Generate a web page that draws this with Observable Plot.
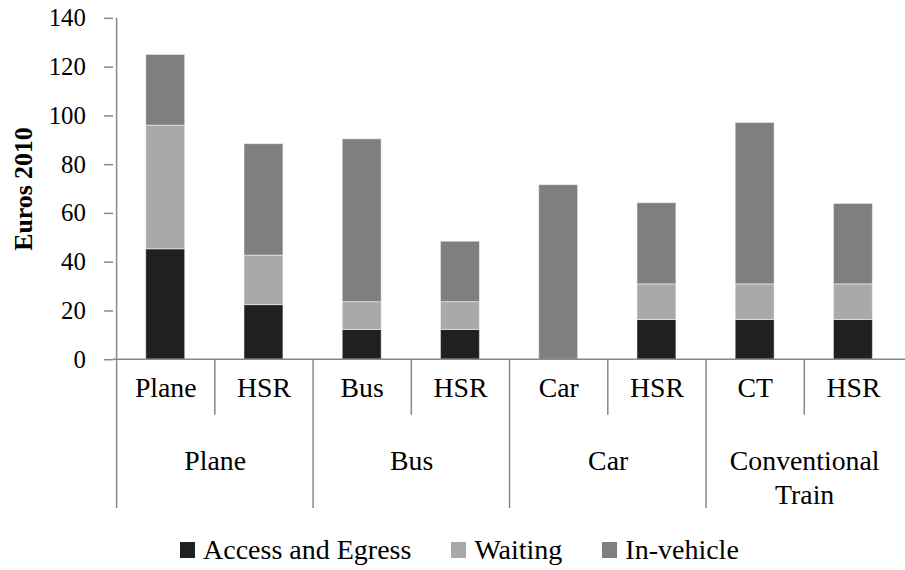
<!DOCTYPE html>
<html>
<head>
<meta charset="utf-8">
<script src="https://cdn.jsdelivr.net/npm/d3@7"></script>
<script src="https://cdn.jsdelivr.net/npm/@observablehq/plot@0.6"></script>
<style>
  html, body { margin: 0; padding: 0; background: #fff; overflow: hidden; width: 905px; height: 570px; }
  #chart { position: relative; width: 905px; height: 570px; font-family: "Liberation Serif", serif; }
  #legend { position: absolute; left: 180px; top: 536px; display: flex; align-items: center; font-size: 28px; line-height: 28px; color: #000; white-space: nowrap; }
  .item { display: flex; align-items: center; margin-right: 40px; }
  .sw { width: 15px; height: 16px; margin-right: 8px; }
</style>
</head>
<body>
<div id="chart"></div>
<script>
// ---- data ----
const groups = ["Plane", "Bus", "Car", "Conventional\nTrain"];
const subLabels = ["Plane", "HSR", "Bus", "HSR", "Car", "HSR", "CT", "HSR"];
const groupOf = [0, 0, 1, 1, 2, 2, 3, 3];
const seriesNames = ["Access and Egress", "Waiting", "In-vehicle"];
const accessEgress = [45.3, 22.4, 12.2, 12.2, 0, 16.3, 16.3, 16.3];
const waiting      = [50.7, 20.3, 11.4, 11.4, 0, 14.6, 14.6, 14.6];
const inVehicle    = [29.0, 45.7, 66.8, 24.8, 71.6, 33.3, 66.2, 33.0];
const yTicks = [0, 20, 40, 60, 80, 100, 120, 140];
const colors = ["#202020", "#a9a9a9", "#7f7f7f"];

const ids = subLabels.map((s, i) => i + ":" + s);
const seriesValues = [accessEgress, waiting, inVehicle];
const rows = [];
ids.forEach((id, i) => {
  seriesNames.forEach((name, k) => rows.push({id, series: name, value: seriesValues[k][i]}));
});
const groupRows = groups.map((g, gi) => ({id: ids[groupOf.indexOf(gi)], label: g}));

const W = 912, H = 525, ML = 114, MT = 18, MB = 163;
const bw = (W - ML) / ids.length;
const font = "Liberation Serif";

const plot = Plot.plot({
  width: W,
  height: H,
  marginLeft: ML,
  marginRight: 0,
  marginTop: MT,
  marginBottom: MB,
  style: {fontFamily: font, fontSize: "25px", background: "white", overflow: "visible"},
  x: {domain: ids, padding: 0, axis: null},
  y: {domain: [0, 140], axis: null},
  color: {domain: seriesNames, range: colors},
  marks: [
    Plot.barY(rows, {x: "id", y: "value", fill: "series", insetLeft: (bw - 40) / 2, insetRight: (bw - 40) / 2,
      stroke: "#ffffff", strokeOpacity: 0.5, strokeWidth: 1}),
    Plot.axisY({ticks: yTicks, tickSize: 9, stroke: "#878787", strokeWidth: 1.5, label: null, tickFormat: () => ""}),
    Plot.text(yTicks, {y: d => d, text: d => String(d), frameAnchor: "left", textAnchor: "end", dx: -28,
      fontSize: 25, fill: "#000"}),
    Plot.text(["Euros 2010"], {frameAnchor: "left", textAnchor: "middle", dx: -91, rotate: -90, text: d => d,
      fontSize: 26, fontWeight: "bold", fill: "#000"}),
    Plot.text(ids, {x: d => d, text: (d, i) => subLabels[i], frameAnchor: "bottom", dy: 38, fontSize: 28, fill: "#000"}),
    Plot.text(groupRows, {x: "id", dx: bw / 2, text: "label", frameAnchor: "bottom", lineAnchor: "top",
      dy: 86, lineHeight: 1.25, fontSize: 28, fill: "#000"})
  ]
});

document.getElementById("chart").appendChild(plot);

// category axis lines and separators
const xs = plot.scale("x"), ys = plot.scale("y");
const svg = d3.select(plot);
const y0 = ys.apply(0), yTop = ys.apply(140);
const g = svg.append("g").attr("stroke", "#878787").attr("stroke-width", 1.5).attr("fill", "none");
g.append("line").attr("x1", ML).attr("x2", W).attr("y1", y0).attr("y2", y0);
ids.forEach((id, i) => {
  const x = Math.round(xs.apply(id)) + 0.5;
  const isGroupStart = i === 0 || groupOf[i] !== groupOf[i - 1];
  g.append("line").attr("x1", x).attr("x2", x)
    .attr("y1", i === 0 ? yTop : y0)
    .attr("y2", isGroupStart ? y0 + 150 : y0 + 56);
});

// legend
const legend = d3.select("#chart").append("div").attr("id", "legend");
seriesNames.forEach((name, k) => {
  const it = legend.append("div").attr("class", "item");
  it.append("div").attr("class", "sw").style("background", colors[k]);
  it.append("span").text(name);
});
</script>
</body>
</html>
